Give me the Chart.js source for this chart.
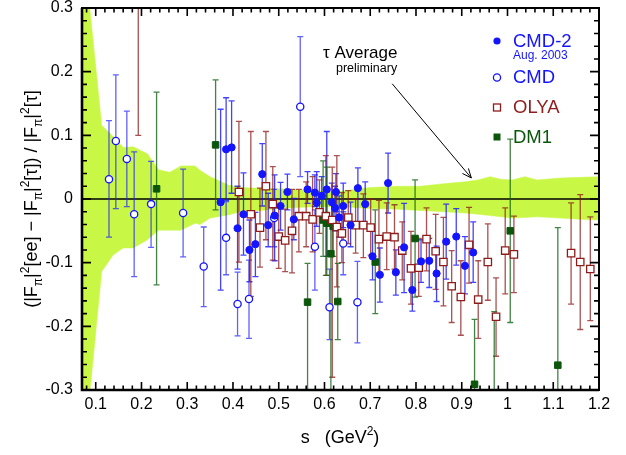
<!DOCTYPE html>
<html>
<head>
<meta charset="utf-8">
<script src="https://cdn.jsdelivr.net/npm/chart.js@4/dist/chart.umd.min.js"></script>
<style>
  html, body { margin: 0; padding: 0; background: #fff; }
  #chart { display: block; }
</style>
</head>
<body>
<canvas id="chart" width="626" height="455"></canvas>
<script>
// axis ticks
const xTicks = [0.1, 0.2, 0.3, 0.4, 0.5, 0.6, 0.7, 0.8, 0.9, 1.0, 1.1, 1.2];
const xTickLabels = ["0.1", "0.2", "0.3", "0.4", "0.5", "0.6", "0.7", "0.8", "0.9", "1", "1.1", "1.2"];
const yTicks = [-0.3, -0.2, -0.1, 0, 0.1, 0.2, 0.3];
const yTickLabels = ["-0.3", "-0.2", "-0.1", "0", "0.1", "0.2", "0.3"];

// CMD-2 (Aug. 2003), filled circles
const cmd2S  = [0.373,0.385,0.397,0.410,0.423,0.436,0.449,0.464,0.477,0.491,0.504,0.519,0.533,0.563,0.579,0.583,0.594,0.605,0.616,0.623,0.625,0.632,0.641,0.657,0.673,0.689,0.705,0.721,0.739,0.756,0.774,0.792,0.811,0.829,0.845,0.866,0.888,0.907,0.925];
const cmd2Y  = [-0.005,0.078,0.081,-0.046,-0.024,-0.080,-0.071,0.039,-0.041,-0.026,-0.011,0.011,-0.032,0.015,0.010,-0.006,0.005,0.015,-0.005,-0.014,0.011,-0.029,-0.011,-0.041,0.017,-0.008,-0.090,-0.119,0.025,-0.115,-0.076,-0.143,-0.098,-0.097,-0.117,-0.067,-0.059,-0.105,-0.084];
const cmd2Hi = [0.141,0.159,0.154,0.020,0.041,-0.033,-0.021,0.087,0.009,0.038,0.026,0.039,0.001,0.043,0.038,0.043,0.035,0.106,0.025,0.020,0.040,0.005,0.025,-0.005,0.049,0.027,-0.051,-0.077,0.072,-0.080,-0.007,-0.109,-0.064,-0.062,-0.074,-0.008,-0.015,-0.059,-0.036];
const cmd2Lo = [-0.143,-0.002,0.009,-0.110,-0.088,-0.130,-0.122,-0.011,-0.075,-0.097,-0.049,-0.017,-0.064,-0.007,-0.012,-0.043,-0.025,-0.090,-0.035,-0.050,-0.020,-0.060,-0.045,-0.075,-0.042,-0.043,-0.127,-0.162,-0.022,-0.151,-0.147,-0.176,-0.131,-0.139,-0.161,-0.126,-0.104,-0.149,-0.131];

// CMD, open circles
const cmdS  = [0.129,0.144,0.168,0.184,0.221,0.291,0.336,0.385,0.410,0.435,0.490,0.547,0.579,0.611,0.641,0.672];
const cmdY  = [0.031,0.091,0.063,-0.024,-0.008,-0.022,-0.106,-0.061,-0.165,-0.157,-0.030,0.145,-0.075,-0.170,-0.070,-0.162];
const cmdHi = [0.123,0.195,0.138,0.074,0.059,0.047,-0.044,-0.004,-0.115,-0.096,0.015,0.255,-0.017,-0.110,-0.020,-0.098];
const cmdLo = [-0.060,-0.015,-0.012,-0.122,-0.076,-0.091,-0.169,-0.119,-0.215,-0.219,-0.075,0.035,-0.143,-0.221,-0.119,-0.226];

// OLYA, open squares
const olyaS  = [0.193,0.413,0.439,0.459,0.472,0.487,0.500,0.514,0.529,0.544,0.560,0.574,0.589,0.603,0.617,0.627,0.638,0.652,0.668,0.685,0.701,0.719,0.736,0.753,0.770,0.789,0.806,0.823,0.843,0.860,0.878,0.898,0.916,0.936,0.957,0.975,0.995,1.014,1.139,1.159,1.181];
const olyaY  = [0.35,0.011,-0.024,-0.045,0.020,-0.008,-0.059,-0.065,-0.050,-0.027,-0.027,-0.032,-0.021,-0.027,-0.033,-0.044,-0.054,-0.029,-0.041,-0.041,-0.045,-0.063,-0.059,-0.060,-0.081,-0.109,-0.108,-0.063,-0.082,-0.099,-0.137,-0.154,-0.072,-0.158,-0.099,-0.185,-0.081,-0.087,-0.085,-0.099,-0.110];
const olyaHi = [0.60,0.122,0.106,0.017,0.106,0.051,-0.012,-0.016,0.015,0.015,0.027,0.035,0.030,0.068,0.050,0.068,0.010,0.013,0.000,0.008,0.000,-0.002,-0.006,-0.009,-0.036,-0.051,-0.062,-0.014,-0.024,-0.029,-0.081,-0.097,-0.013,-0.097,-0.039,-0.124,-0.014,-0.027,-0.006,0.007,-0.028];
const olyaLo = [0.100,-0.099,-0.153,-0.107,-0.064,-0.096,-0.109,-0.114,-0.116,-0.083,-0.075,-0.083,-0.054,-0.120,-0.280,-0.138,-0.100,-0.070,-0.085,-0.092,-0.088,-0.117,-0.111,-0.110,-0.127,-0.165,-0.153,-0.113,-0.142,-0.168,-0.194,-0.214,-0.132,-0.219,-0.159,-0.247,-0.149,-0.147,-0.165,-0.205,-0.191];

// DM1, filled squares
const dm1S  = [0.233,0.362,0.563,0.597,0.605,0.614,0.619,0.629,0.711,0.798,0.928,0.971,1.006,1.110];
const dm1Y  = [0.016,0.085,-0.162,-0.033,-0.038,-0.086,-0.043,-0.161,-0.099,-0.062,-0.291,-0.340,-0.050,-0.261];
const dm1Hi = [0.168,0.187,-0.101,0.060,0.050,-0.030,0.000,-0.101,-0.017,0.030,-0.189,-0.177,0.094,-0.045];
const dm1Lo = [-0.135,-0.017,-0.400,-0.090,-0.120,-0.300,-0.090,-0.221,-0.180,-0.154,-0.400,-0.500,-0.194,-0.400];

// tau average band (preliminary)
const bandS  = [0.07,0.113,0.138,0.160,0.182,0.213,0.237,0.262,0.286,0.317,0.328,0.350,0.39,0.416,0.46,0.503,0.55,0.59,0.634,0.70,0.76,0.809,0.86,0.907,0.935,0.962,0.985,1.010,1.038,1.065,1.115,1.16,1.2];
const bandHi = [0.42,0.116,0.098,0.081,0.082,0.071,0.046,0.042,0.052,0.052,0.045,0.035,0.022,0.018,0.017,0.016,0.014,0.012,0.012,0.018,0.020,0.020,0.024,0.027,0.030,0.035,0.031,0.030,0.035,0.030,0.033,0.034,0.035];
const bandLo = [-0.43,-0.114,-0.088,-0.077,-0.077,-0.064,-0.049,-0.049,-0.049,-0.038,-0.040,-0.030,-0.025,-0.020,-0.018,-0.015,-0.013,-0.012,-0.012,-0.015,-0.016,-0.018,-0.020,-0.022,-0.024,-0.026,-0.028,-0.030,-0.029,-0.028,-0.030,-0.032,-0.033];

const FONT = '"Liberation Sans", Arial, Helvetica, sans-serif';
const BLUE = "#1414ff";
const RED = "#8e1c1c";
const GREEN = "#0c560c";
const BAND = "rgb(200,247,70)";

const pts = (s, v) => s.map((x, i) => ({ x, y: v[i] }));

function seriesSet(label, s, v, hi, lo, style) {
  return Object.assign({
    label,
    data: pts(s, v),
    errHi: hi,
    errLo: lo,
    showLine: false,
    clip: 0,
    order: 0,
  }, style);
}

// draws text made of pieces of different size / offset (sub- and superscripts)
function richText(ctx, parts, x, y, rot) {
  ctx.save();
  ctx.translate(x, y);
  ctx.rotate(rot);
  ctx.textBaseline = "alphabetic";
  ctx.textAlign = "left";
  let total = 0;
  parts.forEach(p => {
    ctx.font = p[1] + "px " + FONT;
    p.w = ctx.measureText(p[0]).width;
    total += p.w;
  });
  let cx = -total / 2;
  parts.forEach(p => {
    ctx.font = p[1] + "px " + FONT;
    ctx.fillText(p[0], cx, p[2]);
    cx += p.w;
  });
  ctx.restore();
}

const deco = {
  id: "deco",
  // zero line + error bars, right after the band is filled
  afterDatasetDraw(chart, args) {
    if (args.index !== 4) return;
    const { ctx, chartArea: a, scales: { x, y } } = chart;
    ctx.save();
    ctx.beginPath();
    ctx.rect(a.left, a.top, a.right - a.left, a.bottom - a.top);
    ctx.clip();
    const y0 = y.getPixelForValue(0);
    ctx.strokeStyle = "#000";
    ctx.lineWidth = 1.7;
    ctx.beginPath();
    ctx.moveTo(a.left, y0);
    ctx.lineTo(a.right, y0);
    ctx.stroke();
    chart.data.datasets.forEach(ds => {
      if (!ds.errHi) return;
      ctx.strokeStyle = ds.errColor;
      ctx.lineWidth = 1.3;
      ds.data.forEach((p, i) => {
        const px = x.getPixelForValue(p.x);
        const yh = y.getPixelForValue(ds.errHi[i]);
        const yl = y.getPixelForValue(ds.errLo[i]);
        ctx.beginPath();
        ctx.moveTo(px, yh); ctx.lineTo(px, yl);
        ctx.moveTo(px - 3, yh); ctx.lineTo(px + 3, yh);
        ctx.moveTo(px - 3, yl); ctx.lineTo(px + 3, yl);
        ctx.stroke();
      });
    });
    ctx.restore();
  },
  afterDraw(chart) {
    const { ctx, chartArea: a, scales: { x, y } } = chart;
    ctx.save();
    // frame
    ctx.strokeStyle = "#000";
    ctx.lineWidth = 2;
    ctx.strokeRect(a.left, a.top, a.right - a.left, a.bottom - a.top);
    ctx.lineWidth = 2.6;
    ctx.beginPath();
    ctx.moveTo(a.left, a.top); ctx.lineTo(a.left, a.bottom); ctx.lineTo(a.right, a.bottom);
    ctx.stroke();

    // inward ticks
    ctx.lineWidth = 1.6;
    ctx.beginPath();
    for (let k = 4; k <= 60; k++) {
      const v = k / 50;
      if (v < x.min - 1e-9 || v > x.max + 1e-9) continue;
      const px = x.getPixelForValue(v);
      const len = k % 5 === 0 ? 8 : 4.5;
      ctx.moveTo(px, a.bottom); ctx.lineTo(px, a.bottom - len);
      ctx.moveTo(px, a.top); ctx.lineTo(px, a.top + len);
    }
    for (let k = -15; k <= 15; k++) {
      const py = y.getPixelForValue(k / 50);
      const len = k % 5 === 0 ? 9 : 5;
      ctx.moveTo(a.left, py); ctx.lineTo(a.left + len, py);
      ctx.moveTo(a.right, py); ctx.lineTo(a.right - len, py);
    }
    ctx.stroke();

    // axis titles
    ctx.fillStyle = "#000";
    richText(ctx, [
      ["(|F", 18, 0], ["π", 12, 5], ["|", 18, 0], ["2", 12, -8],
      ["[ee] − |F", 18, 0], ["π", 12, 5], ["|", 18, 0], ["2", 12, -8],
      ["[τ]) / |F", 18, 0], ["π", 12, 5], ["|", 18, 0], ["2", 12, -8],
      ["[τ]", 18, 0]
    ], 37, (a.top + a.bottom) / 2, -Math.PI / 2);
    richText(ctx, [["s   (GeV", 18, 0], ["2", 12, -8], [")", 18, 0]], 340, 443, 0);

    // tau average annotation
    ctx.textAlign = "left";
    ctx.textBaseline = "alphabetic";
    ctx.font = "17px " + FONT;
    ctx.fillText("τ Average", 323, 58);
    ctx.font = "12.5px " + FONT;
    ctx.fillText("preliminary", 336, 72);
    const x1 = x.getPixelForValue(0.748), y1 = y.getPixelForValue(0.181);
    const x2 = x.getPixelForValue(0.921), y2 = y.getPixelForValue(0.033);
    const ang = Math.atan2(y2 - y1, x2 - x1);
    ctx.lineWidth = 1;
    ctx.beginPath();
    ctx.moveTo(x1, y1); ctx.lineTo(x2, y2);
    ctx.moveTo(x2 - 10 * Math.cos(ang - 0.4), y2 - 10 * Math.sin(ang - 0.4));
    ctx.lineTo(x2, y2);
    ctx.lineTo(x2 - 10 * Math.cos(ang + 0.4), y2 - 10 * Math.sin(ang + 0.4));
    ctx.stroke();

    // legend
    const lx = 497, tx = 513;
    ctx.textBaseline = "middle";
    ctx.fillStyle = BLUE;
    ctx.beginPath(); ctx.arc(lx, 41, 3.6, 0, Math.PI * 2); ctx.fill();
    ctx.font = "18.5px " + FONT;
    ctx.fillText("CMD-2", tx, 42);
    ctx.font = "12px " + FONT;
    ctx.fillText("Aug. 2003", tx, 56);
    ctx.strokeStyle = BLUE;
    ctx.lineWidth = 1.3;
    ctx.fillStyle = "#fff";
    ctx.beginPath(); ctx.arc(lx, 77.5, 3.6, 0, Math.PI * 2); ctx.fill(); ctx.stroke();
    ctx.fillStyle = BLUE;
    ctx.font = "18.5px " + FONT;
    ctx.fillText("CMD", tx, 78);
    ctx.strokeStyle = RED;
    ctx.fillStyle = "#fff";
    ctx.fillRect(lx - 3.5, 104, 7, 7); ctx.strokeRect(lx - 3.5, 104, 7, 7);
    ctx.fillStyle = RED;
    ctx.fillText("OLYA", tx, 108);
    ctx.fillStyle = GREEN;
    ctx.fillRect(lx - 3.5, 133.5, 7, 7);
    ctx.fillText("DM1", tx, 138);
    ctx.restore();
  }
};

new Chart(document.getElementById("chart"), {
  type: "scatter",
  data: {
    datasets: [
      seriesSet("CMD-2", cmd2S, cmd2Y, cmd2Hi, cmd2Lo, {
        pointStyle: "circle", pointRadius: 3.6, backgroundColor: BLUE, borderColor: BLUE,
        borderWidth: 1, errColor: "rgba(20,20,255,0.8)",
      }),
      seriesSet("CMD", cmdS, cmdY, cmdHi, cmdLo, {
        pointStyle: "circle", pointRadius: 3.6, backgroundColor: "#fff", borderColor: BLUE,
        borderWidth: 1.3, errColor: "rgba(30,30,255,0.7)",
      }),
      seriesSet("OLYA", olyaS, olyaY, olyaHi, olyaLo, {
        pointStyle: "rect", pointRadius: 5.2, backgroundColor: "#fff", borderColor: RED,
        borderWidth: 1.3, errColor: "rgba(140,22,22,0.75)",
      }),
      seriesSet("DM1", dm1S, dm1Y, dm1Hi, dm1Lo, {
        pointStyle: "rect", pointRadius: 4.6, backgroundColor: GREEN, borderColor: GREEN,
        borderWidth: 1, errColor: "rgba(20,100,20,0.8)",
      }),
      {
        type: "line",
        label: "band upper",
        data: pts(bandS, bandHi),
        borderColor: BAND,
        borderWidth: 0.5,
        backgroundColor: BAND,
        pointRadius: 0,
        tension: 0,
        fill: "+1",
        order: 1,
      },
      {
        type: "line",
        label: "band lower",
        data: pts(bandS, bandLo),
        borderColor: BAND,
        borderWidth: 0.5,
        pointRadius: 0,
        tension: 0,
        fill: false,
        order: 1,
      },
    ],
  },
  options: {
    responsive: false,
    animation: false,
    events: [],
    layout: { padding: { top: 8, right: 27, left: 0, bottom: 0 } },
    plugins: {
      legend: { display: false },
      tooltip: { enabled: false },
    },
    scales: {
      x: {
        type: "linear",
        min: 0.07,
        max: 1.2,
        grid: { display: false, drawTicks: false },
        border: { display: false },
        afterBuildTicks: s => { s.ticks = xTicks.map(v => ({ value: v })); },
        afterFit: s => { s.height = 65; s.paddingLeft = 0; s.paddingRight = 0; },
        ticks: {
          autoSkip: false,
          maxRotation: 0,
          padding: 5,
          color: "#000",
          font: { family: FONT, size: 16 },
          callback: (v, i) => xTickLabels[i],
        },
      },
      y: {
        type: "linear",
        min: -0.3,
        max: 0.3,
        grid: { display: false, drawTicks: false },
        border: { display: false },
        afterBuildTicks: s => { s.ticks = yTicks.map(v => ({ value: v })); },
        afterFit: s => { s.width = 82; s.paddingTop = 0; s.paddingBottom = 0; },
        ticks: {
          autoSkip: false,
          padding: 9,
          color: "#000",
          font: { family: FONT, size: 16 },
          callback: (v, i) => yTickLabels[i],
        },
      },
    },
  },
  plugins: [deco],
});
</script>
</body>
</html>
